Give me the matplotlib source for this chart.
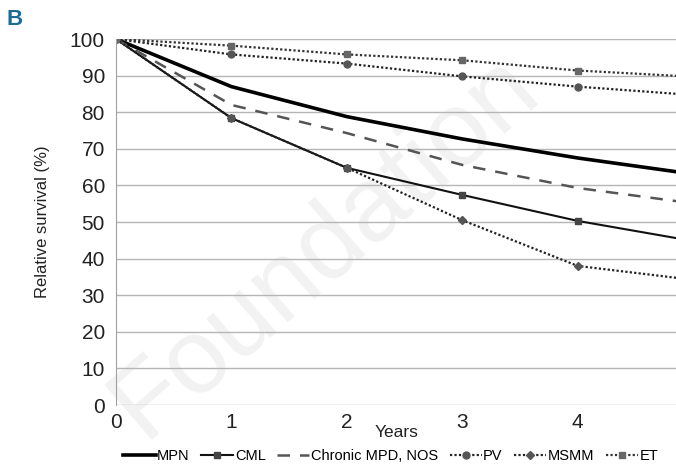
import matplotlib.pyplot as plt

# Relative survival by subtype
years = [0, 1, 2, 3, 4, 5]
mpn = [100, 87, 78.8, 72.7, 67.5, 63.1]
cml = [100, 78.4, 64.8, 57.4, 50.3, 44.8]
mpd_nos = [100, 82, 74.3, 65.6, 59.3, 55.1]
pv = [100, 95.8, 93.3, 89.8, 87, 84.7]
msmm = [100, 78.4, 64.8, 50.5, 38, 34.2]
et = [100, 98.2, 95.8, 94.2, 91.4, 89.7]

x_ticks = [0, 1, 2, 3, 4]
y_ticks = list(range(0, 101, 10))

plt.rcParams['font.family'] = ['Liberation Sans', 'DejaVu Sans']

fig = plt.figure(figsize=(6.76, 4.65), dpi=100)
ax = fig.add_axes([0.1716, 0.129, 0.83, 0.787])
ax.patch.set_alpha(0)

# faint watermark, kept behind everything else
fig.text(0.48, 0.47, "Foundation", fontsize=76, color='#f2f2f2',
         rotation=41, ha='center', va='center', zorder=-5)

ax.plot(years, mpn, color='black', lw=2.6, label='MPN')
ax.plot(years, cml, color='#111111', lw=1.5, marker='s', markersize=4,
        markerfacecolor='#444444', markeredgecolor='#444444', label='CML')
ax.plot(years, mpd_nos, color='#555555', lw=1.8, ls=(0, (5, 4)),
        label='Chronic MPD, NOS')
ax.plot(years, pv, color='#222222', lw=1.6, ls=(0, (1, 1)), marker='o',
        markersize=5, markerfacecolor='#555555', markeredgecolor='#555555',
        label='PV')
ax.plot(years, msmm, color='#222222', lw=1.6, ls=(0, (1, 1)), marker='D',
        markersize=4, markerfacecolor='#555555', markeredgecolor='#555555',
        label='MSMM')
ax.plot(years, et, color='#333333', lw=1.6, ls=(0, (1, 1)), marker='s',
        markersize=5, markerfacecolor='#666666', markeredgecolor='#666666',
        label='ET')

ax.set_xlim(0, 4.86)
ax.set_ylim(0, 100)
ax.set_xticks(x_ticks)
ax.set_yticks(y_ticks)
ax.tick_params(length=0, labelsize=15, colors='#222222')
ax.tick_params(axis='y', pad=8)
ax.tick_params(axis='x', pad=6)
ax.grid(axis='y', color='#b5b5b5', lw=1)
ax.set_axisbelow(True)
for s in ['top', 'right', 'bottom']:
    ax.spines[s].set_visible(False)
ax.spines['left'].set_color('#a0a0a0')

ax.set_xlabel('Years', fontsize=12.5, labelpad=-5, color='#222222')
ax.set_ylabel('Relative survival (%)', fontsize=12, labelpad=14, color='#222222')

ax.legend(loc='upper center', bbox_to_anchor=(0.49, -0.105), ncol=6,
          frameon=False, fontsize=10.5, handlelength=2.2, handletextpad=0.1,
          columnspacing=0.8, borderaxespad=0)

fig.text(0.022, 0.957, 'B', fontsize=16, fontweight='bold', color='#1b6b96',
         va='center', ha='center')

fig.savefig('out.png', dpi=100)
